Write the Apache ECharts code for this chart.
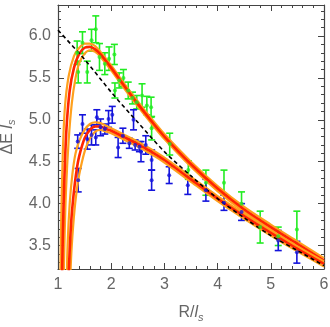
<!DOCTYPE html>
<html>
<head>
<meta charset="utf-8">
<script src="https://cdn.jsdelivr.net/npm/echarts@6/dist/echarts.min.js"></script>
<style>
  html, body { margin: 0; padding: 0; background: #fff; }
  #chart { width: 330px; height: 327px; }
</style>
</head>
<body>
<div id="chart"></div>
<script>
// green points (upper level): R, value, error
const greenR = [1.36, 1.38, 1.46, 1.55, 1.63, 1.71, 1.78, 1.88, 1.96, 2.06, 2.07, 2.15, 2.23, 2.32,
  2.40, 2.48, 2.58, 2.67, 2.75, 2.76, 3.10, 3.45, 3.78, 4.12, 4.45, 4.80, 5.14, 5.49]
const greenE = [5.80, 5.57, 5.92, 5.57, 5.95, 6.08, 5.75, 5.67, 5.73, 5.78, 5.35, 5.47, 5.50, 5.35,
  5.26, 5.21, 5.29, 5.17, 5.15, 4.90, 4.71, 4.40, 4.25, 4.25, 4.00, 3.72, 3.61, 3.69]
const greenErr = [0.14, 0.13, 0.13, 0.13, 0.13, 0.16, 0.16, 0.13, 0.14, 0.12, 0.09, 0.09, 0.10, 0.10,
  0.07, 0.08, 0.14, 0.11, 0.12, 0.14, 0.13, 0.11, 0.15, 0.15, 0.14, 0.19, 0.11, 0.22]

// blue points (lower level)
const blueR = [1.37, 1.38, 1.46, 1.55, 1.63, 1.71, 1.73, 1.80, 1.88, 1.95, 2.02, 2.13, 2.22, 2.34,
  2.42, 2.45, 2.53, 2.56, 2.65, 2.76, 2.76, 3.09, 3.44, 3.78, 4.12, 4.45, 5.14, 5.49]
const blueE = [4.74, 4.28, 4.95, 4.77, 4.82, 4.79, 5.03, 4.91, 4.89, 5.01, 5.06, 4.67, 4.81, 4.72,
  5.00, 4.70, 4.68, 4.62, 4.70, 4.52, 4.28, 4.34, 4.22, 4.16, 4.01, 3.90, 3.56, 3.42]
const blueErr = [0.08, 0.14, 0.11, 0.12, 0.12, 0.09, 0.09, 0.10, 0.06, 0.10, 0.10, 0.12, 0.09, 0.06,
  0.12, 0.06, 0.06, 0.12, 0.11, 0.12, 0.12, 0.10, 0.11, 0.13, 0.09, 0.10, 0.12, 0.13]

// fit curves as [R, value]
const upperMid = [[1.07, 2.9], [1.09, 3.6], [1.12, 4.3], [1.16, 4.9], [1.22, 5.35], [1.3, 5.62], [1.4, 5.79],
  [1.5, 5.86], [1.6, 5.87], [1.7, 5.84], [1.8, 5.78], [2.0, 5.62], [2.25, 5.40], [2.5, 5.19], [2.75, 4.99],
  [3.0, 4.80], [3.5, 4.47], [4.0, 4.18], [4.5, 3.93], [5.0, 3.72], [5.5, 3.52], [6.0, 3.32]]
const upperHi = [[1.04, 2.9], [1.06, 3.8], [1.09, 4.6], [1.13, 5.15], [1.2, 5.52], [1.3, 5.76], [1.4, 5.86],
  [1.5, 5.91], [1.6, 5.91], [1.7, 5.88], [1.8, 5.81], [2.0, 5.65], [2.25, 5.43], [2.5, 5.22], [2.75, 5.02],
  [3.0, 4.83], [3.5, 4.50], [4.0, 4.21], [4.5, 3.96], [5.0, 3.75], [5.5, 3.55], [6.0, 3.35]]
const upperLo = [[1.10, 2.9], [1.12, 3.5], [1.15, 4.15], [1.2, 4.75], [1.26, 5.2], [1.33, 5.5], [1.4, 5.68],
  [1.5, 5.79], [1.6, 5.83], [1.7, 5.81], [1.8, 5.75], [2.0, 5.59], [2.25, 5.37], [2.5, 5.16], [2.75, 4.96],
  [3.0, 4.77], [3.5, 4.44], [4.0, 4.15], [4.5, 3.90], [5.0, 3.69], [5.5, 3.49], [6.0, 3.29]]
const lowerMid = [[1.19, 2.9], [1.21, 3.3], [1.25, 3.8], [1.3, 4.15], [1.35, 4.4], [1.4, 4.57], [1.5, 4.78],
  [1.6, 4.88], [1.7, 4.92], [1.8, 4.92], [1.9, 4.89], [2.0, 4.87], [2.25, 4.79], [2.5, 4.71], [2.75, 4.62],
  [3.0, 4.52], [3.5, 4.29], [4.0, 4.06], [4.5, 3.85], [5.0, 3.65], [5.5, 3.46], [6.0, 3.28]]
const lowerHi = [[1.16, 2.9], [1.18, 3.5], [1.22, 4.0], [1.27, 4.35], [1.33, 4.6], [1.4, 4.75], [1.5, 4.88],
  [1.6, 4.95], [1.7, 4.97], [1.8, 4.96], [1.9, 4.93], [2.0, 4.90], [2.25, 4.82], [2.5, 4.74], [2.75, 4.65],
  [3.0, 4.55], [3.5, 4.32], [4.0, 4.09], [4.5, 3.88], [5.0, 3.68], [5.5, 3.49], [6.0, 3.31]]
const lowerLo = [[1.22, 2.9], [1.25, 3.4], [1.3, 3.85], [1.35, 4.15], [1.4, 4.35], [1.5, 4.62], [1.6, 4.78],
  [1.7, 4.86], [1.8, 4.88], [1.9, 4.86], [2.0, 4.84], [2.25, 4.76], [2.5, 4.68], [2.75, 4.59],
  [3.0, 4.49], [3.5, 4.26], [4.0, 4.03], [4.5, 3.82], [5.0, 3.62], [5.5, 3.43], [6.0, 3.25]]
// dashed reference line
const dashed = [[1.0, 6.07], [1.5, 5.72], [2.0, 5.33], [2.5, 4.97], [3.0, 4.62], [3.5, 4.33],
  [4.0, 4.06], [4.5, 3.83], [5.0, 3.62], [5.5, 3.44], [6.0, 3.26]]

// tick positions on the y axis
const yMajor = [3.5, 4.0, 4.5, 5.0, 5.5, 6.0]
const yMinor = []
for (let i = 33; i <= 63; i++) {
  if (i % 5 !== 0) yMinor.push(i / 10)
}

const RED = '#ff2400'
const ORANGE = '#ffa01c'
const GREEN = '#22ec22'
const BLUE = '#1414dc'
const FRAME = '#444'

function bars(r, e, err) {
  return r.map((x, i) => [x, e[i] - err[i], e[i] + err[i]])
}

function pts(r, e) {
  return r.map((x, i) => [x, e[i]])
}

function errorBar(color) {
  return function (params, api) {
    const top = api.coord([api.value(0), api.value(2)])
    const bot = api.coord([api.value(0), api.value(1)])
    const w = 3.5
    const style = { stroke: color, lineWidth: 1.6 }
    return {
      type: 'group',
      children: [
        { type: 'line', shape: { x1: top[0], y1: top[1], x2: bot[0], y2: bot[1] }, style },
        { type: 'line', shape: { x1: top[0] - w, y1: top[1], x2: top[0] + w, y2: top[1] }, style },
        { type: 'line', shape: { x1: bot[0] - w, y1: bot[1], x2: bot[0] + w, y2: bot[1] }, style }
      ]
    }
  }
}

function curve(data, color, width) {
  return {
    type: 'line',
    data: data,
    smooth: 0.3,
    symbol: 'none',
    silent: true,
    lineStyle: { color: color, width: width }
  }
}

const labelFont = { color: '#666', fontSize: 16, fontFamily: 'Liberation Sans' }
const nameRich = {
  a: { color: '#666', fontSize: 16, fontFamily: 'Liberation Sans' },
  i: { color: '#666', fontSize: 16, fontStyle: 'italic', fontFamily: 'Liberation Sans' },
  s: { color: '#666', fontSize: 11, fontStyle: 'italic', fontFamily: 'Liberation Sans', padding: [9, 0, 0, 0] }
}

const chart = echarts.init(document.getElementById('chart'))
chart.setOption({
  animation: false,
  grid: { left: 58, right: 6, top: 5, bottom: 58, containLabel: false, outerBoundsMode: 'none' },
  xAxis: [{
    type: 'value',
    min: 1,
    max: 6,
    interval: 1,
    position: 'bottom',
    name: '{a|R/}{i|l}{s|s}',
    nameLocation: 'middle',
    nameGap: 34,
    nameTextStyle: { rich: nameRich },
    axisLine: { lineStyle: { color: FRAME, width: 1.2 } },
    axisTick: { inside: true, length: 6, lineStyle: { color: FRAME } },
    minorTick: { show: true, splitNumber: 5, length: 3, lineStyle: { color: FRAME } },
    splitLine: { show: false },
    axisLabel: Object.assign({ margin: 8 }, labelFont)
  }, {
    type: 'value',
    min: 1,
    max: 6,
    interval: 1,
    position: 'top',
    axisLine: { lineStyle: { color: FRAME, width: 1.2 } },
    axisTick: { inside: true, length: 6, lineStyle: { color: FRAME } },
    minorTick: { show: true, splitNumber: 5, length: 3, lineStyle: { color: FRAME } },
    splitLine: { show: false },
    axisLabel: { show: false }
  }],
  yAxis: [{
    type: 'value',
    min: 3.22,
    max: 6.37,
    position: 'left',
    name: '{a|ΔE }{i|l}{s|s}',
    nameLocation: 'middle',
    nameGap: 40,
    nameTextStyle: { rich: nameRich },
    axisLine: { show: true, lineStyle: { color: FRAME, width: 1.2 } },
    axisTick: { show: true, inside: true, length: 6, customValues: yMajor, lineStyle: { color: FRAME } },
    splitLine: { show: false },
    axisLabel: Object.assign({ customValues: yMajor, margin: 7, formatter: v => v.toFixed(1) }, labelFont)
  }, {
    type: 'value',
    min: 3.22,
    max: 6.37,
    position: 'left',
    axisLine: { show: false },
    axisTick: { show: true, inside: true, length: 3, customValues: yMinor, lineStyle: { color: FRAME } },
    splitLine: { show: false },
    axisLabel: { show: false }
  }, {
    type: 'value',
    min: 3.22,
    max: 6.37,
    position: 'right',
    axisLine: { show: true, lineStyle: { color: FRAME, width: 1.2 } },
    axisTick: { show: true, inside: true, length: 6, customValues: yMajor, lineStyle: { color: FRAME } },
    splitLine: { show: false },
    axisLabel: { show: false }
  }, {
    type: 'value',
    min: 3.22,
    max: 6.37,
    position: 'right',
    axisLine: { show: false },
    axisTick: { show: true, inside: true, length: 3, customValues: yMinor, lineStyle: { color: FRAME } },
    splitLine: { show: false },
    axisLabel: { show: false }
  }],
  series: [
    curve(upperHi, ORANGE, 2.2),
    curve(upperLo, ORANGE, 2.2),
    curve(upperMid, RED, 2.6),
    curve(lowerHi, ORANGE, 2.2),
    curve(lowerLo, ORANGE, 2.2),
    curve(lowerMid, RED, 2.6),
    {
      type: 'line',
      data: dashed,
      smooth: 0.3,
      symbol: 'none',
      silent: true,
      lineStyle: { color: '#000', width: 1.6, type: [4, 3] }
    },
    {
      type: 'custom',
      renderItem: errorBar(GREEN),
      data: bars(greenR, greenE, greenErr),
      encode: { x: 0, y: [1, 2] },
      z: 3
    },
    {
      type: 'custom',
      renderItem: errorBar(BLUE),
      data: bars(blueR, blueE, blueErr),
      encode: { x: 0, y: [1, 2] },
      z: 3
    },
    {
      type: 'scatter',
      data: pts(greenR, greenE),
      symbol: 'circle',
      symbolSize: 4,
      itemStyle: { color: GREEN },
      z: 4
    },
    {
      type: 'scatter',
      data: pts(blueR, blueE),
      symbol: 'circle',
      symbolSize: 4,
      itemStyle: { color: BLUE },
      z: 4
    }
  ]
})
</script>
</body>
</html>
